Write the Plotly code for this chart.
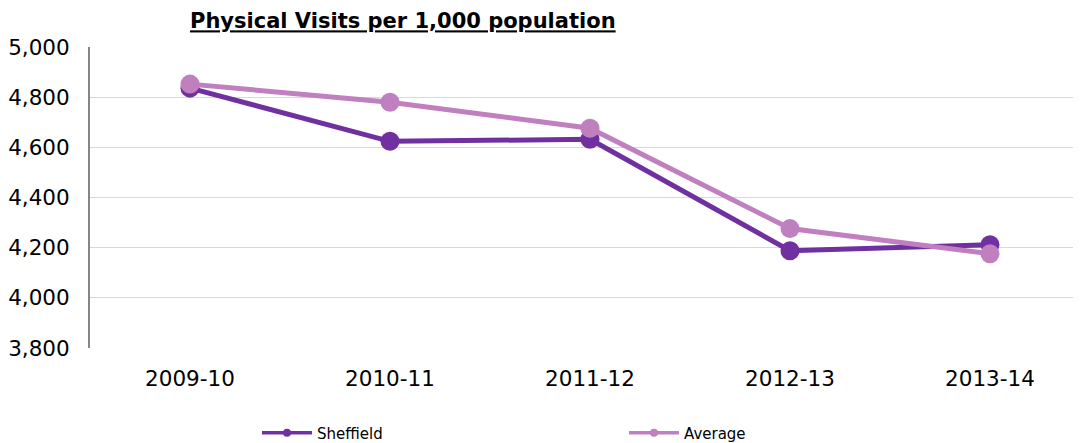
import plotly.graph_objects as go

categories = ["2009-10", "2010-11", "2011-12", "2012-13", "2013-14"]
sheffield = [4836, 4624, 4632, 4188, 4212]
average = [4852, 4780, 4676, 4276, 4176]

FONT = "DejaVu Sans"
C_SHEF = "#7030A0"
C_AVG = "#C07FBF"

# page body adds an 8px offset; size figure to fit the window
W, H = 1073, 435

fig = go.Figure()
xs = list(range(len(categories)))
fig.add_trace(go.Scatter(
    x=xs, y=sheffield, name="Sheffield", mode="lines+markers",
    line=dict(color=C_SHEF, width=5),
    marker=dict(color=C_SHEF, size=19), showlegend=False,
))
fig.add_trace(go.Scatter(
    x=xs, y=average, name="Average", mode="lines+markers",
    line=dict(color=C_AVG, width=5),
    marker=dict(color=C_AVG, size=19), showlegend=False,
))
fig.add_trace(go.Scatter(
    x=[None], y=[None], name="Sheffield", mode="lines+markers",
    line=dict(color=C_SHEF, width=3.5), marker=dict(color=C_SHEF, size=8),
))
fig.add_trace(go.Scatter(
    x=[None], y=[None], name="Average", mode="lines+markers",
    line=dict(color=C_AVG, width=3.5), marker=dict(color=C_AVG, size=8),
))

fig.update_layout(
    width=W, height=H,
    margin=dict(l=82, r=0, t=39, b=95),
    paper_bgcolor="white", plot_bgcolor="white",
    font=dict(family=FONT, color="#000000"),
    title=dict(
        text="<b><u>Physical Visits per 1,000 population</u></b>",
        x=182/W, xanchor="left", xref="container",
        y=1 - 13/H, yanchor="middle", yref="container",
        font=dict(family=FONT, size=21, color="#000000"),
        automargin=False,
    ),
    showlegend=True,
    legend=dict(
        orientation="h", x=249/W, xanchor="left", xref="container",
        y=10/H, yanchor="middle", yref="container",
        entrywidth=302, entrywidthmode="pixels",
        font=dict(family=FONT, size=15, color="#000000"),
        itemwidth=50, tracegroupgap=0,
    ),
    xaxis=dict(
        range=[-0.5, 4.455], automargin=False,
        tickvals=xs, ticktext=categories,
        showgrid=False, showline=False, zeroline=False,
        ticks="", tickfont=dict(family=FONT, size=21.5),
        ticklabelstandoff=15,
    ),
    yaxis=dict(
        range=[3800, 5000], dtick=200, tickformat=",", automargin=False,
        showgrid=True, gridcolor="#D9D9D9", gridwidth=1,
        showline=True, linecolor="#868686", linewidth=2,
        zeroline=False, ticks="",
        tickfont=dict(family=FONT, size=21.5),
        ticklabelstandoff=14,
    ),
)

fig.write_html("out.html")
